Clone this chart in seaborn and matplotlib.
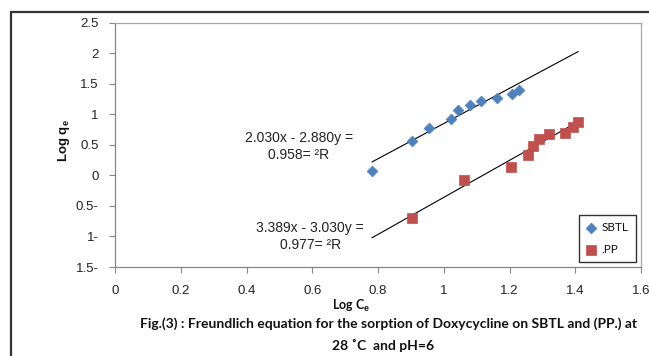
import numpy as np
import pandas as pd
import matplotlib
matplotlib.use("Agg")
import matplotlib.pyplot as plt
from matplotlib.lines import Line2D
import seaborn as sns

# ---- data ----
sbtl_x = [0.781, 0.903, 0.955, 1.022, 1.044, 1.080, 1.114, 1.162, 1.208, 1.229]
sbtl_y = [0.070, 0.555, 0.784, 0.931, 1.078, 1.160, 1.225, 1.275, 1.340, 1.390]
pp_x = [0.903, 1.062, 1.205, 1.257, 1.272, 1.290, 1.321, 1.369, 1.394, 1.409]
pp_y = [-0.703, -0.082, 0.131, 0.327, 0.474, 0.588, 0.670, 0.700, 0.800, 0.866]

# trendline coefficients (y = slope*x + intercept)
sbtl_slope, sbtl_intercept = 2.880, -2.030
pp_slope, pp_intercept = 3.030, -3.389
trend_range = [0.781, 1.409]

series_names = ["SBTL", ".PP"]
sbtl_eq = "2.030x - 2.880y =\n0.958= \u00b2R"
pp_eq = "3.389x - 3.030y =\n0.977= \u00b2R"

x_ticks = [0, 0.2, 0.4, 0.6, 0.8, 1.0, 1.2, 1.4, 1.6]
x_tick_labels = ["0", "0.2", "0.4", "0.6", "0.8", "1", "1.2", "1.4", "1.6"]
y_ticks = [-1.5, -1.0, -0.5, 0, 0.5, 1.0, 1.5, 2.0, 2.5]
y_tick_labels = ["1.5-", "1-", "0.5-", "0", "0.5", "1", "1.5", "2", "2.5"]

caption1 = "Fig.(3) : Freundlich equation for the sorption of Doxycycline on SBTL and (PP.) at"
caption2 = "28 \u02daC  and pH=6"

blue = "#4F81BD"
red = "#C0504D"

sns.set_theme(style="white")
plt.rcParams["font.family"] = ["Liberation Sans", "DejaVu Sans"]
plt.rcParams["mathtext.fontset"] = "custom"
plt.rcParams["mathtext.rm"] = "Liberation Sans"
plt.rcParams["mathtext.bf"] = "Liberation Sans:bold"

fig = plt.figure(figsize=(6.49, 3.56), dpi=100)
ax = fig.add_axes([115.3 / 649, 1 - 267 / 356, (641 - 115.3) / 649, (267 - 22.7) / 356])

df_s = pd.DataFrame({"x": sbtl_x, "y": sbtl_y})
df_p = pd.DataFrame({"x": pp_x, "y": pp_y})

sns.scatterplot(data=df_s, x="x", y="y", marker="D", s=30, color=blue,
                edgecolor=blue, linewidth=0.5, ax=ax, label=series_names[0], zorder=3)
sns.scatterplot(data=df_p, x="x", y="y", marker="s", s=58, color=red,
                edgecolor=red, linewidth=0.5, ax=ax, label=series_names[1], zorder=3)

tx = np.array(trend_range)
sns.lineplot(x=tx, y=sbtl_slope * tx + sbtl_intercept, color="black", lw=0.8, ax=ax, zorder=2)
sns.lineplot(x=tx, y=pp_slope * tx + pp_intercept, color="black", lw=0.8, ax=ax, zorder=2)

ax.set_xlim(0, 1.6)
ax.set_ylim(-1.5, 2.5)
ax.set_xticks(x_ticks)
ax.set_xticklabels(x_tick_labels)
ax.set_yticks(y_ticks)
ax.set_yticklabels(y_tick_labels)
ax.tick_params(axis="both", which="major", direction="out", length=4, width=0.8,
               color="#868686", labelsize=9.5, labelcolor="#222222", pad=8,
               bottom=True, left=True)
ax.tick_params(axis="x", pad=9)

for side in ["left", "bottom"]:
    ax.spines[side].set_color("#868686")
    ax.spines[side].set_linewidth(0.9)
for side in ["top", "right"]:
    ax.spines[side].set_color("#a6a6a6")
    ax.spines[side].set_linewidth(0.9)

ax.set_ylabel("Log q$_{\\mathbf{e}}$", fontsize=9.5, fontweight="bold", color="#111111")
ax.yaxis.set_label_coords(-0.082, 0.516)
ax.set_xlabel("Log C$_{\\mathbf{e}}$", fontsize=9, fontweight="bold", color="#111111",
              family=["Lato", "DejaVu Sans"])
ax.xaxis.set_label_coords(0.448, -0.125)

ax.text(0.559, 0.474, sbtl_eq, ha="center", va="center", fontsize=10,
        linespacing=1.3, color="#222222")
ax.text(0.593, -1.005, pp_eq, ha="center", va="center", fontsize=10,
        linespacing=1.3, color="#222222")

leg = ax.legend(loc="lower right", bbox_to_anchor=(0.990, 0.020), frameon=True,
                fancybox=False, edgecolor="black", fontsize=8.5, handlelength=0.9,
                handletextpad=0.45, borderpad=0.6, labelspacing=0.9, borderaxespad=0)
leg.get_frame().set_linewidth(1.0)
for t in leg.get_texts():
    t.set_family(["Lato", "DejaVu Sans"])
    t.set_color("#111111")

fig.text(388 / 649, 1 - 324 / 356, caption1, ha="center", va="center", fontsize=10,
         fontweight="bold", family=["Lato", "DejaVu Sans"], color="#111111")
fig.text(383 / 649, 1 - 345 / 356, caption2, ha="center", va="center", fontsize=10,
         fontweight="bold", family=["Lato", "DejaVu Sans"], color="#111111")

# outer chart frame (left and top)
fig.add_artist(Line2D([10.5 / 649, 10.5 / 649], [0, 1 - 12 / 356], color="#333333", lw=1.6,
                      transform=fig.transFigure))
fig.add_artist(Line2D([10.5 / 649, 1], [1 - 12 / 356, 1 - 12 / 356], color="#333333", lw=1.6,
                      transform=fig.transFigure))

fig.savefig("out.png", dpi=100)
